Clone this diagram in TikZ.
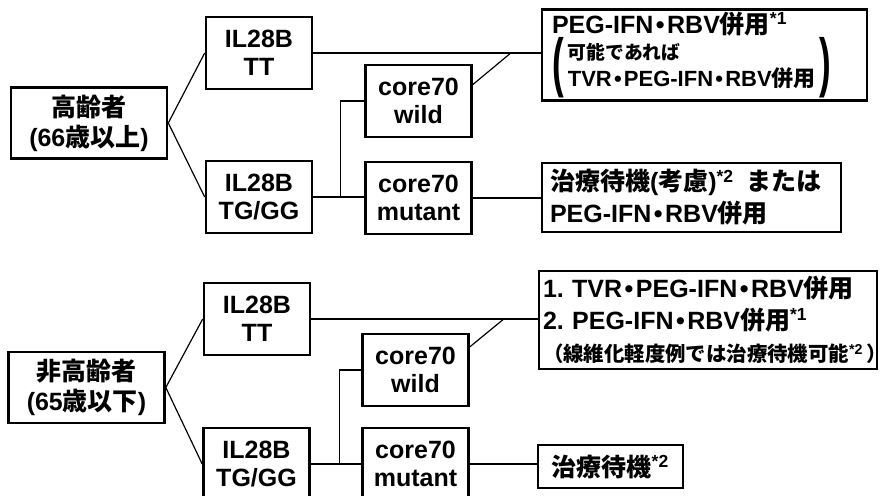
\documentclass[tikz,border=0pt]{standalone}
\usepackage{fontspec}
\setmainfont{Liberation Sans}
\newfontfamily\jpfont{Noto Sans CJK JP Bold}
\usetikzlibrary{calc,positioning}
\frenchspacing
\newcommand{\jtext}[1]{{\jpfont #1}}
\newcommand{\mdot}{\hspace{0.1em}\textbullet\hspace{0.1em}}
\newcommand{\bigparen}[1]{$\vcenter{\hbox{\scalebox{1.4}[2.6]{\bfseries #1}}}$}
\tikzset{
  box/.style={draw, line width=1.3pt, inner sep=3pt, align=center, font=\fontsize{12.5}{14}\selectfont\bfseries},
  gbox/.style={box, minimum width=53pt, minimum height=36pt},
  rootbox/.style={box, minimum width=78pt, minimum height=35.5pt, font=\fontsize{12.5}{15}\selectfont\bfseries},
  resbox/.style={box, align=left, inner ysep=1pt, font=\fontsize{12.5}{16}\selectfont\bfseries},
  link/.style={line width=0.6pt},
}

\begin{document}
\begin{tikzpicture}[x=0.5pt, y=-0.5pt]
% --- frame ---
\useasboundingbox (0,0) rectangle (886,496);
\clip (0,0) rectangle (886,496);

% --- upper tree: elderly ---
\node[rootbox] (old) at (89,123) {\jtext{高齢者}\\(66\jtext{歳以上})};
\node[gbox] (oTT) at (259,53) {IL28B\\TT};
\node[gbox] (oTG) at (259,197) {IL28B\\TG/GG};
\node[gbox] (oWild) at (418.5,101) {core70\\wild};
\node[gbox] (oMut) at (418.5,198) {core70\\mutant};

\node[resbox, inner xsep=5pt, text width=152.5pt, minimum height=45pt] (oRes1) at (704.5,55)
{PEG-IFN\mdot RBV\jtext{併用}\textsuperscript{*1}\\
 \bigparen{(}\,{\renewcommand\arraystretch{0.8}\begin{tabular}{@{}l@{}}
   {\fontsize{9.4}{10}\selectfont\jtext{可能であれば}}\\
   {\fontsize{11}{13}\selectfont TVR\mdot PEG-IFN\mdot RBV\jtext{併用}}
 \end{tabular}}\,\bigparen{)}};
\node[resbox, inner xsep=4pt, text width=141.5pt, minimum height=34.5pt] (oRes2) at (691.5,197.5)
{\jtext{治療待機}(\jtext{考慮})\textsuperscript{*2}\enspace\jtext{または}\\PEG-IFN\mdot RBV\jtext{併用}};

\draw[link] (old.east) -- (oTT.west);
\draw[link] (old.east) -- (oTG.west);
\draw[link] (oTT.east) -- (oTT.east -| oRes1.west);
\coordinate (oJoin) at ($(oWild.east |- oTT.east)+(38,0)$);
\draw[link] ($(oWild.north east)!0.28!(oWild.south east)$) -- (oJoin);
\coordinate (oFork) at ($(oTG.east)!0.54!(oTG.east -| oMut.west)$);
\draw[link] (oTG.east) -- (oTG.east -| oMut.west);
\draw[link] (oFork) |- (oWild.west);
\draw[link] (oMut.east) -- (oMut.east -| oRes2.west);

% --- lower tree: non-elderly ---
\node[rootbox] (young) at (86.5,387.5) {\jtext{非高齢者}\\(65\jtext{歳以下})};
\node[gbox] (yTT) at (257,319) {IL28B\\TT};
\node[gbox] (yTG) at (256.5,464) {IL28B\\TG/GG};
\node[gbox] (yWild) at (415.5,370) {core70\\wild};
\node[gbox] (yMut) at (415.5,464) {core70\\mutant};

\node[resbox, inner xsep=2pt, text width=165pt, minimum height=49pt] (yRes1) at (708,320)
{1. TVR\mdot PEG-IFN\mdot RBV\jtext{併用}\\
 2. PEG-IFN\mdot RBV\jtext{併用}\textsuperscript{*1}\\
 {\fontsize{10.2}{10}\selectfont\jtext{（線維化軽度例では治療待機可能}\textsuperscript{*2}\,\jtext{）}}};
\node[box, minimum width=72.5pt, minimum height=21.5pt, inner sep=1pt] (yRes2) at (610.5,466.5)
{\jtext{治療待機}\textsuperscript{*2}};

\draw[link] (young.east) -- (yTT.west);
\draw[link] (young.east) -- (yTG.west);
\draw[link] (yTT.east) -- (yTT.east -| yRes1.west);
\coordinate (yJoin) at ($(yWild.east |- yTT.east)+(34,0)$);
\draw[link] ($(yWild.north east)!0.19!(yWild.south east)$) -- (yJoin);
\coordinate (yFork) at ($(yTG.east)!0.57!(yTG.east -| yMut.west)$);
\draw[link] (yTG.east) -- (yTG.east -| yMut.west);
\draw[link] (yFork) |- (yWild.west);
\draw[link] (yMut.east) -- (yMut.east -| yRes2.west);

\end{tikzpicture}
\end{document}
